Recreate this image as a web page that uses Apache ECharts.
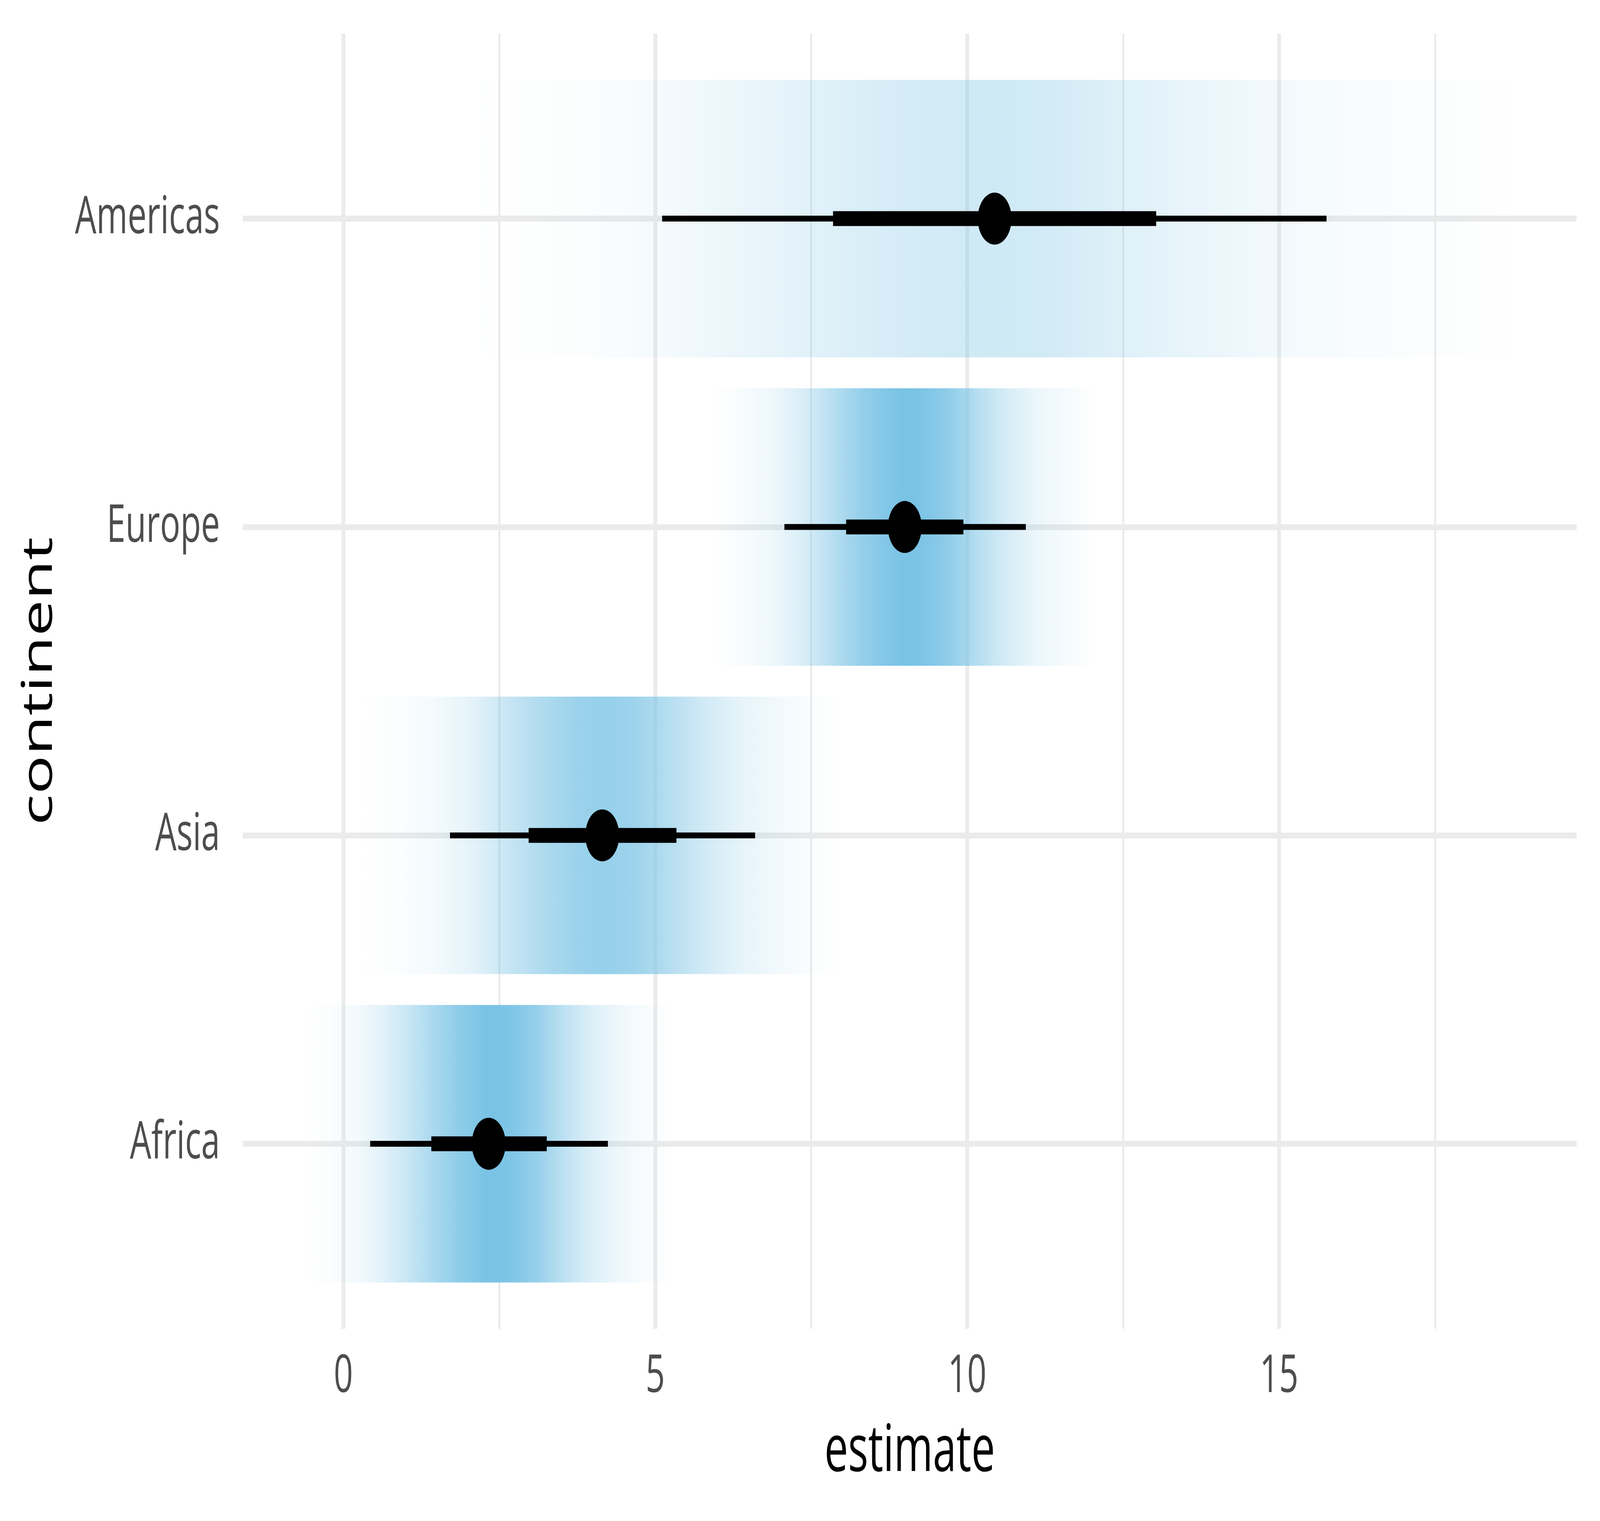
<!DOCTYPE html>
<html>
<head>
<meta charset="utf-8">
<script src="https://cdn.jsdelivr.net/npm/echarts@6/dist/echarts.min.js"></script>
<style>
html,body{margin:0;padding:0;background:#ffffff;overflow:hidden;}
#chart{width:6300px;height:3893px;transform-origin:0 0;}
</style>
</head>
<body>
<div id="chart"></div>
<script>
// ---- data ----
const categories = ['Africa', 'Asia', 'Europe', 'Americas'];   // y positions 1..4
const medians    = [2.33, 4.15, 9.00, 10.44];
const thickLo    = [1.41, 2.97, 8.06, 7.85];
const thickHi    = [3.26, 5.34, 9.94, 13.03];
const thinLo     = [0.43, 1.71, 7.07, 5.11];
const thinHi     = [4.24, 6.60, 10.94, 15.76];
const bandLo     = [-0.63, 0.30, 5.95, 2.00];
const bandHi     = [5.29, 7.95, 12.05, 18.84];

// density ramp (x, relative opacity)
const africaDensity = [[-0.63,0],[-0.3,0.02],[0.22,0.08],[0.64,0.22],[1.05,0.42],[1.47,0.65],[1.88,0.85],[2.30,1.0],[2.50,0.99],[2.71,0.95],[3.13,0.77],[3.54,0.49],[3.96,0.27],[4.38,0.13],[4.79,0.06],[5.29,0]];
const asiaDensity = [[0.30,0],[0.93,0.03],[1.50,0.09],[2.07,0.2],[2.65,0.42],[3.22,0.6],[3.79,0.75],[4.19,0.78],[4.65,0.73],[5.22,0.55],[5.79,0.34],[6.36,0.19],[6.93,0.1],[7.44,0.04],[7.95,0]];
const europeDensity = [[5.95,0],[6.42,0.05],[6.89,0.13],[7.36,0.28],[7.82,0.52],[8.29,0.78],[8.76,0.95],[9.04,1.0],[9.23,0.98],[9.69,0.84],[10.16,0.55],[10.63,0.31],[11.10,0.15],[11.56,0.07],[12.05,0]];
const americasDensity = [[2.0,0],[3.0,0.01],[3.8,0.025],[5.0,0.07],[6.2,0.14],[7.5,0.22],[8.7,0.3],[9.9,0.35],[10.4,0.36],[11.2,0.34],[12.5,0.24],[13.7,0.16],[15.0,0.09],[16.2,0.05],[17.5,0.025],[18.84,0]];
const densities = [africaDensity, asiaDensity, europeDensity, americasDensity];

const majorTicks = [0, 5, 10, 15];
const minorTicks = [2.5, 7.5, 12.5, 17.5];
const categoryTicks = [1, 2, 3, 4];
const xMin = -1.612, xMax = 19.77;
const yMin = 0.4, yMax = 4.6;

// ---- styling ----
const FONT = 'Open Sans';
const GRID = '#EBEBEB';
const RAMP = [121, 195, 229];
const bandHalf = 0.45;

function rgba(a){ return 'rgba(' + RAMP[0] + ',' + RAMP[1] + ',' + RAMP[2] + ',' + a + ')'; }

const bandData = categories.map((c, i) => [bandLo[i], bandHi[i], i + 1]);
const thinData = categories.map((c, i) => [thinLo[i], thinHi[i], i + 1]);
const thickData = categories.map((c, i) => [thickLo[i], thickHi[i], i + 1]);
const pointData = categories.map((c, i) => [medians[i], i + 1]);

// the chart is laid out at 6300x3893 and scaled to whatever viewport the page gets
const el = document.getElementById('chart');
const fx = window.innerWidth / 6300, fy = window.innerHeight / 3893;
el.style.transform = 'scale(' + fx + ',' + fy + ')';

function intervalRenderer(h){
  return function(params, api){
    const y = api.value(2);
    const p1 = api.coord([api.value(0), y]);
    const p2 = api.coord([api.value(1), y]);
    return {
      type: 'rect',
      shape: { x: p1[0], y: p1[1] - h / 2, width: p2[0] - p1[0], height: h },
      style: { fill: '#000000' }
    };
  };
}

const chart = echarts.init(el, null, { renderer: 'canvas', width: 6300, height: 3893 });
chart.setOption({
  animation: false,
  backgroundColor: '#ffffff',
  grid: { left: 956, right: 92, top: 86, bottom: 492, outerBoundsMode: 'none', containLabel: false },
  xAxis: [
    {
      type: 'value', min: xMin, max: xMax, position: 'bottom',
      axisLine: { show: false },
      axisTick: { show: false, customValues: majorTicks },
      axisLabel: { customValues: majorTicks, formatter: v => String(v), color: '#4D4D4D', fontSize: 133, fontFamily: FONT, margin: 58 },
      splitLine: { show: true, lineStyle: { color: GRID, width: 15 } },
      name: 'estimate', nameLocation: 'middle', nameGap: 234,
      nameTextStyle: { color: '#000000', fontSize: 166, fontFamily: FONT }
    },
    {
      type: 'value', min: xMin, max: xMax, position: 'top',
      axisLine: { show: false },
      axisTick: { show: false, customValues: minorTicks },
      axisLabel: { show: false, customValues: minorTicks },
      splitLine: { show: true, lineStyle: { color: GRID, width: 8 } }
    }
  ],
  yAxis: {
    type: 'value', min: yMin, max: yMax,
    axisLine: { show: false },
    axisTick: { show: false, customValues: categoryTicks },
    axisLabel: { customValues: categoryTicks, formatter: v => categories[Math.round(v) - 1], color: '#4D4D4D', fontSize: 133, fontFamily: FONT, margin: 90 },
    splitLine: { show: true, lineStyle: { color: GRID, width: 15 } },
    name: 'continent', nameLocation: 'middle', nameGap: 716, nameRotate: 90,
    nameTextStyle: { color: '#000000', fontSize: 166, fontFamily: FONT }
  },
  series: [
    {
      type: 'custom', xAxisIndex: 0, yAxisIndex: 0,
      data: bandData, encode: { x: [0, 1], y: 2 },
      renderItem: function(params, api){
        const lo = api.value(0), hi = api.value(1), y = api.value(2);
        const p1 = api.coord([lo, y + bandHalf]);
        const p2 = api.coord([hi, y - bandHalf]);
        const prof = densities[params.dataIndex];
        const stops = prof.map(d => ({ offset: Math.min(1, Math.max(0, (d[0] - lo) / (hi - lo))), color: rgba(d[1]) }));
        return {
          type: 'rect',
          shape: { x: p1[0], y: p1[1], width: p2[0] - p1[0], height: p2[1] - p1[1] },
          style: { fill: new echarts.graphic.LinearGradient(0, 0, 1, 0, stops) }
        };
      },
      z: 2
    },
    { type: 'custom', data: thinData, encode: { x: [0, 1], y: 2 }, renderItem: intervalRenderer(15), z: 3 },
    { type: 'custom', data: thickData, encode: { x: [0, 1], y: 2 }, renderItem: intervalRenderer(38), z: 4 },
    {
      type: 'scatter', data: pointData, symbol: 'circle', symbolSize: 133,
      itemStyle: { color: '#000000', opacity: 1 }, z: 5
    }
  ]
});
</script>
</body>
</html>
